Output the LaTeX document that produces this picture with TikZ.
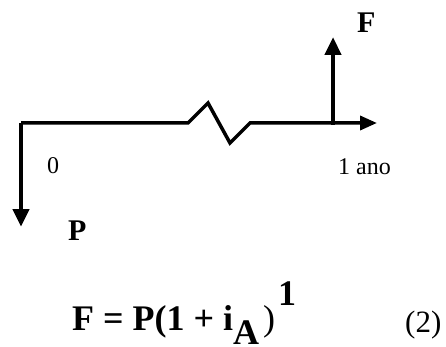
\documentclass[tikz,border=0pt]{standalone}
\usepackage{fontspec}
\setmainfont{Liberation Serif}
\usetikzlibrary{arrows.meta}
\begin{document}
\begin{tikzpicture}[x=1pt,y=-1pt,
  axisline/.style={line width=3.5pt,line join=miter},
  flow/.style={line width=4.5pt},
  bigtip/.style={-{Triangle[length=18pt,width=16pt]}},
  axtip/.style={-{Triangle[length=17pt,width=14pt]}},
  lbl/.style={inner sep=0pt,anchor=base west,font=\fontsize{24}{24}\selectfont},
  blbl/.style={inner sep=0pt,anchor=base west,font=\fontsize{30}{30}\selectfont\bfseries}]
\useasboundingbox (0,0) rectangle (446,347);
\coordinate (o) at (21,123);
\coordinate (z0) at (188,123);
\coordinate (z1) at (208,103);
\coordinate (z2) at (230,143);
\coordinate (z3) at (250,123);
\coordinate (axend) at (377,123);
\coordinate (pend) at (21,227);
\coordinate (fbase) at (333,125);
\coordinate (fend) at (333,37);
\draw[axisline,axtip] (o) -- (z0) -- (z1) -- (z2) -- (z3) -- (axend);
\draw[flow,bigtip] (o) -- (pend);
\draw[flow,bigtip] (fbase) -- (fend);
\node[blbl] (F) at (357,33) {F};
\node[blbl] (P) at (68,240) {P};
\node[lbl] (zero) at (47,174) {0};
\node[lbl] (ano) at (338,175) {1 ano};
\node[inner sep=0pt,anchor=base west,font=\fontsize{36}{36}\selectfont] (eq) at (72,330)
  {\bfseries F = P(1 + i\raisebox{-14pt}{A}\hspace{4pt}\mdseries)\hspace{3pt}\raisebox{25pt}{\bfseries 1}};
\node[inner sep=0pt,anchor=base west,font=\fontsize{31}{31}\selectfont] (num) at (405,332) {(2)};
\end{tikzpicture}
\end{document}
